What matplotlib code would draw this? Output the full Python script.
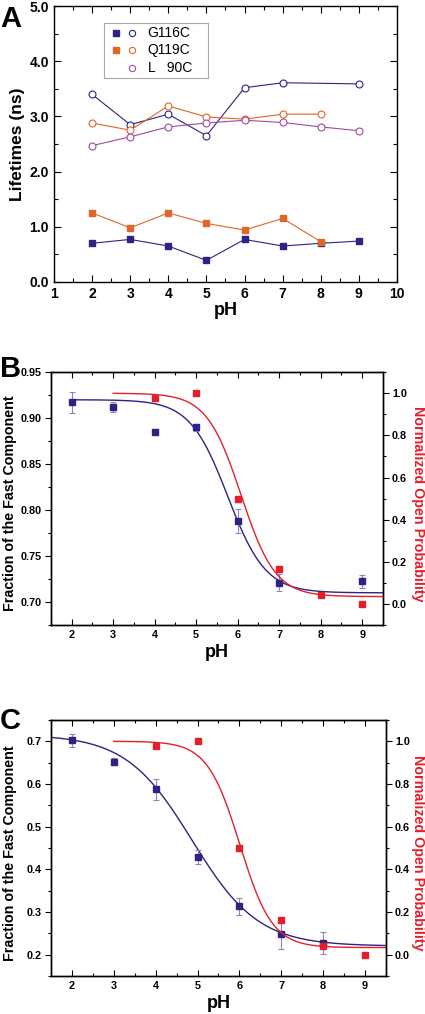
import numpy as np
import matplotlib.pyplot as plt
from matplotlib.ticker import MultipleLocator, FixedLocator

plt.rcParams['font.family'] = ['Liberation Sans', 'DejaVu Sans']
plt.rcParams['font.weight'] = 'bold'
plt.rcParams['axes.labelweight'] = 'bold'

NAVY = '#2d2383'
ORANGE = '#e0662a'
PURPLE = '#a04a9e'
RED = '#e3202a'
ERR = '#8a86c0'
NARROW = ['Liberation Sans Narrow', 'Liberation Sans', 'DejaVu Sans']

# ---- panel A data ----
ph_g116_fast = [2, 3, 4, 5, 6, 7, 8, 9]
g116_fast = [0.70, 0.77, 0.65, 0.39, 0.77, 0.65, 0.70, 0.74]
ph_q119_fast = [2, 3, 4, 5, 6, 7, 8]
q119_fast = [1.25, 0.98, 1.25, 1.06, 0.94, 1.15, 0.73]
ph_g116_slow = [2, 3, 4, 5, 6, 7, 9]
g116_slow = [3.40, 2.85, 3.04, 2.65, 3.52, 3.61, 3.59]
ph_q119_slow = [2, 3, 4, 5, 6, 7, 8]
q119_slow = [2.88, 2.75, 3.19, 2.99, 2.95, 3.04, 3.04]
ph_l90_slow = [2, 3, 4, 5, 6, 7, 8, 9]
l90_slow = [2.47, 2.63, 2.81, 2.88, 2.93, 2.89, 2.81, 2.74]

# ---- panel B data ----
ph_b = [2, 3, 4, 5, 6, 7, 9]
frac_b = [0.917, 0.912, 0.885, 0.890, 0.788, 0.721, 0.7225]
frac_b_err = [0.011, 0.005, 0.003, 0.004, 0.013, 0.009, 0.007]
ph_po = [4, 5, 6, 7, 8, 9]
po_b = [0.978, 1.0, 0.50, 0.164, 0.044, 0.0]
fit_b_frac = dict(top=0.92, bottom=0.71, pk=5.76, n=0.95)
fit_b_po = dict(top=1.0, bottom=0.035, pk=6.08, n=1.05)

# ---- panel C data ----
ph_c = [2, 3, 4, 5, 6, 7, 8]
frac_c = [0.702, 0.652, 0.587, 0.429, 0.313, 0.249, 0.227]
frac_c_err = [0.016, 0.008, 0.025, 0.017, 0.02, 0.035, 0.025]
po_c = [0.98, 1.0, 0.50, 0.163, 0.042, 0.0]
fit_c_frac = dict(top=0.716, bottom=0.22, pk=4.87, n=0.55)
fit_c_po = dict(top=1.0, bottom=0.033, pk=6.01, n=1.12)


def hill(x, top, bottom, pk, n):
    return bottom + (top - bottom) / (1 + 10 ** (n * (x - pk)))


fig = plt.figure(figsize=(4.25, 10.14), dpi=100)

# ================= A =================
axA = fig.add_axes([0.127, 0.722, 0.807, 0.272])
lw = 0.8
axA.plot(ph_g116_fast, g116_fast, '-s', color=NAVY, lw=lw, ms=4.5, mfc=NAVY, mec=NAVY)
axA.plot(ph_q119_fast, q119_fast, '-s', color=ORANGE, lw=lw, ms=4.5, mfc=ORANGE, mec=ORANGE)
axA.plot(ph_g116_slow, g116_slow, '-o', color=NAVY, lw=lw, ms=5, mfc='white', mec=NAVY, mew=0.8)
axA.plot(ph_q119_slow, q119_slow, '-o', color=ORANGE, lw=lw, ms=5, mfc='white', mec=ORANGE, mew=0.8)
axA.plot(ph_l90_slow, l90_slow, '-o', color=PURPLE, lw=lw, ms=5, mfc='white', mec=PURPLE, mew=0.8)
axA.set_xlim(1, 10)
axA.set_ylim(0, 5)
axA.xaxis.set_major_locator(MultipleLocator(1))
axA.xaxis.set_minor_locator(MultipleLocator(0.5))
axA.yaxis.set_major_locator(MultipleLocator(1))
axA.yaxis.set_minor_locator(MultipleLocator(0.5))
axA.set_yticklabels(['%.1f' % v for v in axA.get_yticks()])
axA.tick_params(which='both', direction='in', top=True, right=True, labelsize=10, width=0.8)
axA.tick_params(which='major', length=5)
axA.tick_params(which='minor', length=3)
for s in axA.spines.values():
    s.set_linewidth(1.0)
axA.set_xlabel('pH', fontsize=13, labelpad=1)
axA.set_ylabel('Lifetimes (ns)', fontsize=12.5, labelpad=3)

# legend drawn by hand inside a box
leg = axA.inset_axes([0.145, 0.74, 0.305, 0.2])
leg.set_xlim(0, 1)
leg.set_ylim(0, 1)
leg.set_xticks([])
leg.set_yticks([])
for s in leg.spines.values():
    s.set_color('#aaaaaa')
    s.set_linewidth(0.8)
rows = [('G116C', NAVY, True), ('Q119C', ORANGE, True), ('L   90C', PURPLE, False)]
for i, (name, c, filled) in enumerate(rows):
    yy = 0.82 - i * 0.32
    if filled:
        leg.plot(0.12, yy, 's', color=c, ms=4.5)
    leg.plot(0.27, yy, 'o', mfc='white', mec=c, ms=4.5, mew=0.8)
    leg.text(0.42, yy, name, fontsize=10, fontweight='normal', va='center', ha='left')

fig.text(0.0, 0.995, 'A', fontsize=21, fontweight='bold', va='top', ha='left')


def sigmoid_panel(rect, ph, frac, frac_err, fit_frac, po, fit_po, ylim, yticks, fmt, x_start,
                  lab_left, lab_right):
    ax = fig.add_axes(rect)
    ax2 = ax.twinx()
    x_fit_blue = np.linspace(x_start, 9.5, 300)
    x_fit_red = np.linspace(3, 9.5, 300)
    ax.plot(x_fit_blue, hill(x_fit_blue, **fit_frac), color=NAVY, lw=1.0, zorder=2)
    ax.errorbar(ph, frac, yerr=frac_err, fmt='s', color=NAVY, ms=4, ecolor=ERR,
                elinewidth=0.8, capsize=2.5, capthick=0.8, zorder=3)
    ax2.plot(x_fit_red, hill(x_fit_red, **fit_po), color=RED, lw=1.0)
    ax2.plot(ph_po, po, 's', color=RED, ms=4)
    ax.set_xlim(1.5, 9.5)
    ax.set_ylim(*ylim)
    ax2.set_ylim(-0.1, 1.1)
    ax.xaxis.set_major_locator(MultipleLocator(1))
    ax.xaxis.set_minor_locator(MultipleLocator(0.5))
    ax.yaxis.set_major_locator(FixedLocator(yticks))
    ax.set_yticklabels([fmt % v for v in yticks])
    step = yticks[1] - yticks[0]
    ax.yaxis.set_minor_locator(MultipleLocator(step / 2))
    rt = [0, 0.2, 0.4, 0.6, 0.8, 1.0]
    ax2.yaxis.set_major_locator(FixedLocator(rt))
    ax2.yaxis.set_minor_locator(MultipleLocator(0.1))
    ax2.set_yticklabels(['%.1f' % v for v in rt])
    ax.tick_params(axis='y', which='both', direction='out', labelsize=7.8, width=0.8, pad=2.5)
    ax.tick_params(axis='x', which='both', direction='in', top=True, labelsize=7.8, width=0.8)
    ax.tick_params(which='major', length=4)
    ax.tick_params(which='minor', length=2.5)
    ax2.tick_params(which='both', direction='out', labelsize=7.8, width=0.8, pad=2.5)
    ax2.tick_params(which='major', length=4)
    ax2.tick_params(which='minor', length=2.5)
    for a in (ax, ax2):
        for s in a.spines.values():
            s.set_linewidth(1.0)
    ax.set_xlabel('pH', fontsize=13, labelpad=3)
    ax.set_ylabel('Fraction of the Fast Component', fontsize=10.3, family=NARROW,
                  rotation=90, ha='center', va='center', rotation_mode='default')
    ax.yaxis.set_label_coords(lab_left, 0.48)
    ax2.set_ylabel('Normalized Open Probability', fontsize=10.3, family=NARROW, color=RED,
                   rotation=270, ha='center', va='center', rotation_mode='default')
    ax2.yaxis.set_label_coords(lab_right, 0.48)
    return ax


sigmoid_panel([0.12, 0.3836, 0.781, 0.2494], ph_b, frac_b, frac_b_err, fit_b_frac,
              po_b, fit_b_po, (0.675, 0.95), [0.70, 0.75, 0.80, 0.85, 0.90, 0.95], '%.2f', 2,
              -0.123, 1.106)
fig.text(0.0, 0.650, 'B', fontsize=21, fontweight='bold', va='top', ha='left')

sigmoid_panel([0.12, 0.0375, 0.788, 0.2525], ph_c, frac_c, frac_c_err, fit_c_frac,
              po_c, fit_c_po, (0.15, 0.75), [0.2, 0.3, 0.4, 0.5, 0.6, 0.7], '%.1f', 1.5,
              -0.123, 1.097)
fig.text(0.0, 0.303, 'C', fontsize=21, fontweight='bold', va='top', ha='left')

fig.savefig('out.png', dpi=100)
